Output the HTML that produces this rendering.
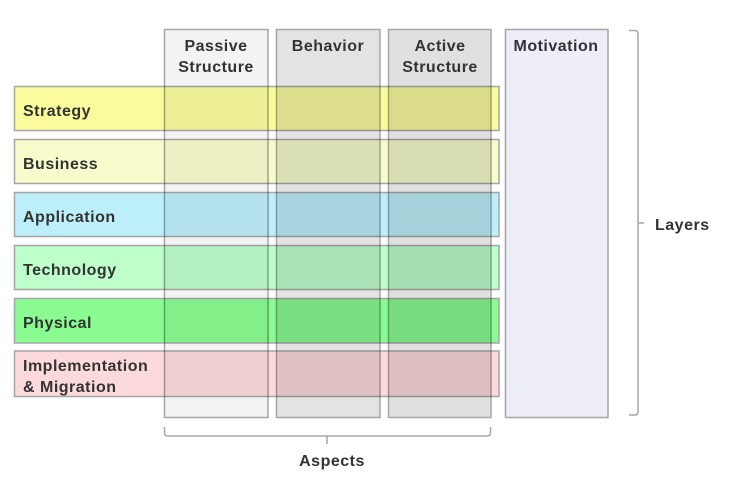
<!DOCTYPE html>
<html><head><meta charset="utf-8"><style>
html,body{margin:0;padding:0;background:#fff;}
svg{display:block;}
text{font-family:"Liberation Sans",Arial,sans-serif;font-weight:bold;font-size:16px;fill:#333;letter-spacing:0.5px;}
.row{mix-blend-mode:multiply;stroke:#a6a6a6;stroke-width:1.5;}
.col{stroke:#a6a6a6;stroke-width:1.5;}
</style></head><body>
<svg width="731" height="485" viewBox="0 0 731 485" xmlns="http://www.w3.org/2000/svg">
<rect width="731" height="485" fill="#fff"/>
<g>
<rect class="col" x="164.5" y="29.5" width="103.5" height="388" fill="#f3f3f3"/>
<rect class="col" x="276.5" y="29.5" width="103.5" height="388" fill="#e3e3e3"/>
<rect class="col" x="388.5" y="29.5" width="102.5" height="388" fill="#e0e0e0"/>
<rect class="col" x="505.5" y="29.5" width="102.5" height="388" fill="#eeeef9"/>
</g>
<g>
<rect class="row" x="14.5" y="86.5" width="484.5" height="44" fill="#f9fb9d"/>
<rect class="row" x="14.5" y="139.5" width="484.5" height="44" fill="#f8fccd"/>
<rect class="row" x="14.5" y="192.5" width="484.5" height="44" fill="#bdeffb"/>
<rect class="row" x="14.5" y="245.5" width="484.5" height="44" fill="#bdfecb"/>
<rect class="row" x="14.5" y="298.5" width="484.5" height="44.5" fill="#89fb90"/>
<rect class="row" x="14.5" y="351" width="484.5" height="45.5" fill="#fcdadc"/>
</g>
<!-- column headers -->
<text x="216" y="51" text-anchor="middle">Passive</text>
<text x="216" y="72" text-anchor="middle">Structure</text>
<text x="328" y="51" text-anchor="middle">Behavior</text>
<text x="440" y="51" text-anchor="middle">Active</text>
<text x="440" y="72" text-anchor="middle">Structure</text>
<text x="556" y="51" text-anchor="middle">Motivation</text>
<!-- row labels -->
<text x="23" y="116">Strategy</text>
<text x="23" y="169">Business</text>
<text x="23" y="222">Application</text>
<text x="23" y="275">Technology</text>
<text x="23" y="328">Physical</text>
<text x="23" y="371">Implementation</text>
<text x="23" y="392">&amp; Migration</text>
<!-- Layers bracket -->
<path d="M629,30.5 L635,30.5 Q638,30.5 638,34 L638,411 Q638,415 635,415 L629,415 M638,223 L644,223" fill="none" stroke="#a6a6a6" stroke-width="1.5"/>
<text x="655" y="230">Layers</text>
<!-- Aspects bracket -->
<path d="M164.5,427 L164.5,433 Q164.5,436 168,436 L487,436 Q490.5,436 490.5,433 L490.5,427 M327,436 L327,444" fill="none" stroke="#a6a6a6" stroke-width="1.5"/>
<text x="332" y="466" text-anchor="middle">Aspects</text>
</svg>
</body></html>
